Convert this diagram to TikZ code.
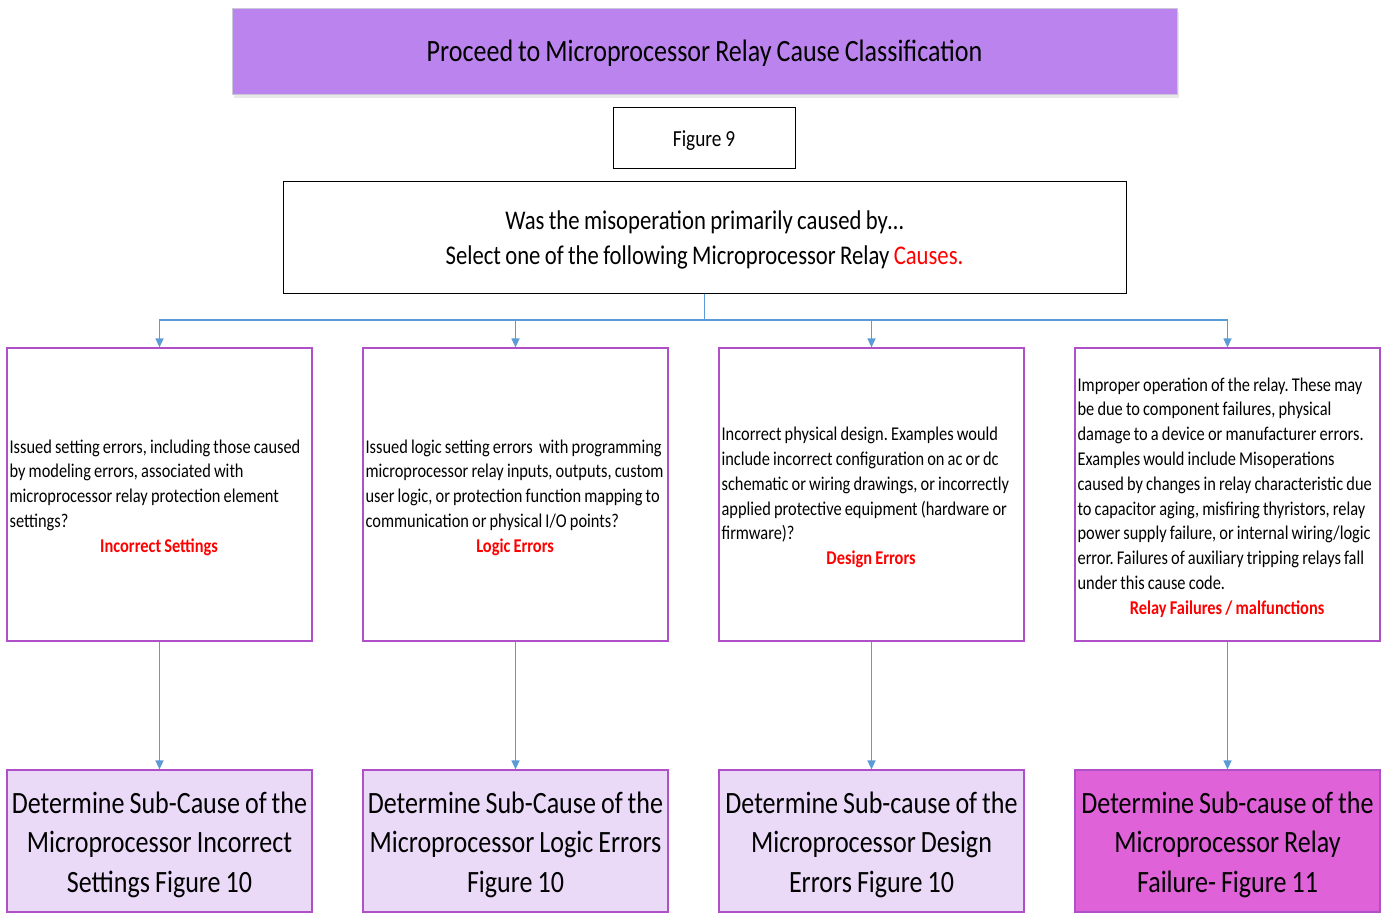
\documentclass[tikz,border=0pt]{standalone}
\usepackage{fontspec}
\setmainfont{Carlito}[FakeStretch=0.84, WordSpace={0.85,0,0}]
\usetikzlibrary{arrows.meta}
\definecolor{titlefill}{RGB}{187,131,238}
\definecolor{titleedge}{RGB}{200,200,215}
\definecolor{boxedge}{RGB}{176,80,200}
\definecolor{conn}{RGB}{91,155,213}
\definecolor{lightfill}{RGB}{234,218,248}
\definecolor{magfill}{RGB}{224,98,217}
\definecolor{redtxt}{RGB}{255,0,0}
\newcommand{\redlabel}[1]{\par\noindent\makebox[299pt]{\color{redtxt}\bfseries #1}}
\newcommand{\fixsp}{\spaceskip=0pt\relax\xspaceskip=0pt\relax\frenchspacing\raggedright}
\tikzset{
  connline/.style={draw=conn, line width=1.3pt, -{Triangle[length=9pt,width=8pt]}},
  descbox/.style={draw=boxedge, line width=1.2pt, minimum width=305pt, minimum height=293pt, inner sep=0pt},
  desctext/.style={anchor=west, inner sep=3pt, text width=360pt, yshift=-3pt, font=\fontsize{19.5}{24.8}\selectfont},
  subbox/.style={draw=boxedge, line width=1.2pt, minimum width=305pt, minimum height=142pt, inner sep=1pt},
  subtext/.style={align=center, font=\fontsize{31}{39.5}\selectfont, inner sep=0pt},
}
\begin{document}
\begin{tikzpicture}[x=1pt,y=-1pt]
\useasboundingbox (0,0) rectangle (1385,914);
% title shadow
\fill[gray!18] (234,12) rectangle (1179,98);
\node[draw=titleedge, fill=titlefill, minimum width=945pt, minimum height=86pt, inner sep=0pt] (title) at (704.5,51) {};
\node[font=\fontsize{31}{36}\selectfont, inner sep=0pt] (titletext) at ([yshift=-2pt]title.center) {Proceed to Microprocessor Relay Cause Classification};
\node[draw=black, line width=1pt, minimum width=182pt, minimum height=61pt, inner sep=0pt] (fig) at (704,138) {};
\node[font=\fontsize{23}{27}\selectfont, inner sep=0pt] (figtext) at ([yshift=-2.5pt]fig.center) {Figure 9};
\node[draw=black, line width=1pt, minimum width=843pt, minimum height=112pt, inner sep=0pt] (q) at (704.5,237) {};
\node[align=center, font=\fontsize{27}{35}\selectfont, inner sep=0pt] (qtext) at ([yshift=-3pt]q.center) {Was the misoperation primarily caused by\dots\\Select one of the following Microprocessor Relay {\color{redtxt}Causes.}};

\node[descbox] (b1) at (159.5,494.5) {};
\node[descbox] (b2) at (515.5,494.5) {};
\node[descbox] (b3) at (871.5,494.5) {};
\node[descbox] (b4) at (1227.5,494.5) {};

\node[desctext] (t1) at (b1.west) {\fixsp Issued setting errors, including those caused\\by modeling errors, associated with\\microprocessor relay protection element\\settings?\redlabel{Incorrect Settings}};
\node[desctext] (t2) at (b2.west) {\fixsp Issued logic setting errors\ \ with programming\\microprocessor relay inputs, outputs, custom\\user logic, or protection function mapping to\\communication or physical I/O points?\redlabel{Logic Errors}};
\node[desctext] (t3) at (b3.west) {\fixsp Incorrect physical design. Examples would\\include incorrect configuration on ac or dc\\schematic or wiring drawings, or incorrectly\\applied protective equipment (hardware or\\firmware)?\redlabel{Design Errors}};
\node[desctext] (t4) at (b4.west) {\fixsp Improper operation of the relay. These may\\be due to component failures, physical\\damage to a device or manufacturer errors.\\Examples would include Misoperations\\caused by changes in relay characteristic due\\to capacitor aging, misfiring thyristors, relay\\power supply failure, or internal wiring/logic\\error. Failures of auxiliary tripping relays fall\\under this cause code.\redlabel{Relay Failures / malfunctions}};

\node[subbox, fill=lightfill] (s1) at (159.5,841) {};
\node[subbox, fill=lightfill] (s2) at (515.5,841) {};
\node[subbox, fill=lightfill] (s3) at (871.5,841) {};
\node[subbox, fill=magfill] (s4) at (1227.5,841) {};
\node[subtext] (l1) at ([yshift=-3.5pt]s1.center) {Determine Sub-Cause of the\\Microprocessor Incorrect\\Settings Figure 10};
\node[subtext] (l2) at ([yshift=-3.5pt]s2.center) {Determine Sub-Cause of the\\Microprocessor Logic Errors\\Figure 10};
\node[subtext] (l3) at ([yshift=-3.5pt]s3.center) {Determine Sub-cause of the\\Microprocessor Design\\Errors Figure 10};
\node[subtext] (l4) at ([yshift=-3.5pt]s4.center) {Determine Sub-cause of the\\Microprocessor Relay\\Failure- Figure 11};

\coordinate (bus) at (704.5,320);
\foreach \b in {b1,b2,b3,b4}{
  \draw[connline] (q.south) -- (bus) -| (\b.north);
}
\draw[connline] (b1.south) -- (s1.north);
\draw[connline] (b2.south) -- (s2.north);
\draw[connline] (b3.south) -- (s3.north);
\draw[connline] (b4.south) -- (s4.north);
\end{tikzpicture}
\end{document}
